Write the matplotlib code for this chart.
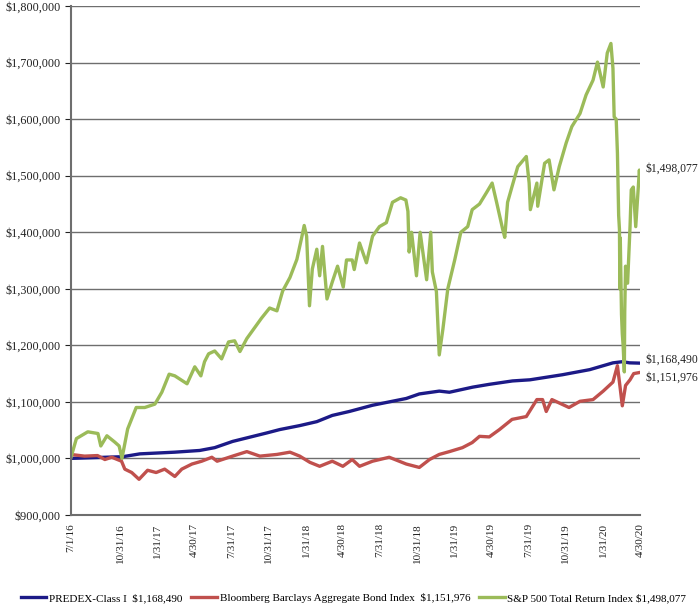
import matplotlib
matplotlib.use("Agg")
import matplotlib.pyplot as plt
import matplotlib.dates as mdates
from matplotlib.ticker import FuncFormatter
import pandas as pd

# valori in migliaia di dollari
sp_dates = ["2016-07-01", "2016-07-15", "2016-08-12", "2016-09-06", "2016-09-13", "2016-09-28",
            "2016-10-17", "2016-10-28", "2016-11-04", "2016-11-18", "2016-12-09", "2016-12-30",
            "2017-01-24", "2017-02-10", "2017-02-28", "2017-03-14", "2017-04-13", "2017-05-02",
            "2017-05-17", "2017-05-26", "2017-06-05", "2017-06-20", "2017-07-07", "2017-07-24",
            "2017-08-08", "2017-08-21", "2017-09-07", "2017-09-22", "2017-10-13", "2017-11-02",
            "2017-11-20", "2017-12-04", "2017-12-22", "2018-01-08", "2018-01-19", "2018-01-26",
            "2018-02-01", "2018-02-08", "2018-02-15", "2018-02-26", "2018-03-05", "2018-03-12",
            "2018-03-23", "2018-04-05", "2018-04-18", "2018-05-02", "2018-05-10", "2018-05-24",
            "2018-05-29", "2018-06-11", "2018-06-28", "2018-07-13", "2018-07-30", "2018-08-16",
            "2018-08-31", "2018-09-20", "2018-10-03", "2018-10-08", "2018-10-11", "2018-10-17",
            "2018-10-29", "2018-11-07", "2018-11-23", "2018-12-03", "2018-12-07", "2018-12-17",
            "2018-12-24", "2019-01-02", "2019-01-14", "2019-01-31", "2019-02-15", "2019-03-04",
            "2019-03-15", "2019-04-02", "2019-04-19", "2019-05-03", "2019-05-14", "2019-05-29",
            "2019-06-03", "2019-06-10", "2019-06-21", "2019-07-05", "2019-07-26", "2019-08-02",
            "2019-08-05", "2019-08-21", "2019-08-23", "2019-09-09", "2019-09-20", "2019-10-02",
            "2019-10-15", "2019-11-01", "2019-11-15", "2019-12-05", "2019-12-20", "2020-01-06",
            "2020-01-17", "2020-01-31", "2020-02-10", "2020-02-19", "2020-02-24", "2020-02-27",
            "2020-03-03", "2020-03-06", "2020-03-09", "2020-03-11", "2020-03-12", "2020-03-13",
            "2020-03-16", "2020-03-18", "2020-03-20", "2020-03-23", "2020-03-24", "2020-03-26",
            "2020-03-27", "2020-03-31", "2020-04-06", "2020-04-09", "2020-04-14", "2020-04-20",
            "2020-04-29", "2020-04-30"]
sp_vals = [1000, 1035, 1047, 1044, 1022, 1040,
           1029, 1022, 1000, 1052, 1090, 1090,
           1096, 1117, 1149, 1146, 1132, 1162,
           1146, 1171, 1185, 1190, 1176, 1206,
           1208, 1189, 1212, 1227, 1248, 1266,
           1261, 1296, 1320, 1352, 1388, 1412,
           1393, 1270, 1335, 1370, 1323, 1375,
           1282, 1312, 1340, 1303, 1351, 1351,
           1334, 1381, 1346, 1393, 1410, 1417,
           1453, 1461, 1457, 1437, 1365, 1400,
           1323, 1400, 1316, 1400, 1330, 1295,
           1183, 1229, 1300, 1351, 1400, 1410,
           1440, 1450, 1470, 1487, 1453, 1405,
           1391, 1453, 1481, 1516, 1534, 1487,
           1440, 1487, 1446, 1522, 1528, 1475,
           1516, 1558, 1587, 1610, 1643, 1669,
           1701, 1657, 1717, 1734, 1690, 1604,
           1600, 1540, 1430, 1405, 1300, 1390,
           1255, 1220, 1200, 1153, 1260, 1340,
           1310, 1310, 1410, 1475, 1480, 1410,
           1510, 1498]

predex_dates = ["2016-07-01", "2016-11-06", "2016-12-18", "2017-03-14", "2017-05-14", "2017-06-20",
                "2017-08-03", "2017-10-26", "2017-11-27", "2018-01-15", "2018-02-26", "2018-04-05",
                "2018-05-17", "2018-07-13", "2018-10-04", "2018-11-05", "2018-12-24", "2019-01-18",
                "2019-03-16", "2019-04-26", "2019-06-22", "2019-08-04", "2019-10-23", "2019-12-29",
                "2020-02-24", "2020-03-18", "2020-04-05", "2020-04-30"]
predex_vals = [1000, 1003, 1008, 1011, 1014, 1019,
               1030, 1045, 1051, 1058, 1065, 1076,
               1083, 1094, 1106, 1114, 1119, 1117,
               1126, 1131, 1137, 1139, 1148, 1157,
               1169, 1171, 1169, 1168.49]

bond_dates = ["2016-07-01", "2016-08-04", "2016-09-05", "2016-09-23", "2016-10-10", "2016-11-03",
              "2016-11-11", "2016-11-28", "2016-12-16", "2017-01-06", "2017-01-27", "2017-02-17",
              "2017-03-14", "2017-03-31", "2017-04-25", "2017-05-19", "2017-06-13", "2017-06-26",
              "2017-08-03", "2017-09-07", "2017-10-09", "2017-11-20", "2017-12-22", "2018-01-15",
              "2018-02-09", "2018-03-05", "2018-04-05", "2018-05-01", "2018-05-24", "2018-06-11",
              "2018-07-13", "2018-08-23", "2018-10-04", "2018-11-05", "2018-11-30", "2018-12-24",
              "2019-01-18", "2019-02-19", "2019-03-15", "2019-04-02", "2019-04-26", "2019-05-21",
              "2019-06-21", "2019-07-26", "2019-08-21", "2019-09-04", "2019-09-13", "2019-09-27",
              "2019-11-08", "2019-12-05", "2020-01-06", "2020-01-31", "2020-02-24", "2020-03-06",
              "2020-03-13", "2020-03-18", "2020-03-26", "2020-04-06", "2020-04-15", "2020-04-30"]
bond_vals = [1007, 1004, 1005, 998, 1002, 995,
             981, 975, 963, 979, 975, 981,
             968, 981, 990, 995, 1002, 995,
             1004, 1012, 1004, 1007, 1011, 1004,
             993, 986, 995, 986, 998, 986,
             995, 1002, 990, 984, 998, 1007,
             1012, 1019, 1028, 1039, 1038, 1051,
             1069, 1074, 1104, 1104, 1083, 1104,
             1090, 1101, 1104, 1119, 1135, 1164,
             1123, 1093, 1129, 1139, 1150, 1151.976]

tick_dates = ["2016-07-01", "2016-10-31", "2017-01-31", "2017-04-30", "2017-07-31", "2017-10-31",
              "2018-01-31", "2018-04-30", "2018-07-31", "2018-10-31", "2019-01-31", "2019-04-30",
              "2019-07-31", "2019-10-31", "2020-01-31", "2020-04-30"]

labels = ["PREDEX-Class I  $1,168,490",
          "Bloomberg Barclays Aggregate Bond Index  $1,151,976",
          "S&P 500 Total Return Index $1,498,077"]
end_labels = ["$1,168,490", "$1,151,976", "$1,498,077"]

plt.rcParams['font.family'] = ['Liberation Serif', 'DejaVu Serif']

fig = plt.figure(figsize=(7, 6.13), dpi=100)
ax = fig.add_axes([0.101, 0.160, 0.813, 0.830])

series = [
    (predex_dates, predex_vals, '#1c1a87'),
    (bond_dates, bond_vals, '#c0504d'),
    (sp_dates, sp_vals, '#9bbb59'),
]
for (d, v, c), lab in zip(series, labels):
    ax.plot(pd.to_datetime(d), [x * 1000 for x in v], color=c, lw=2.4, label=lab,
            solid_joinstyle='round')

ax.set_xlim(pd.Timestamp("2016-07-01"), pd.Timestamp("2020-04-30"))
ax.set_ylim(900000, 1800000)
ax.set_yticks(range(900000, 1800001, 100000))
ax.yaxis.set_major_formatter(FuncFormatter(lambda v, p: f"${v:,.0f}"))
ax.set_xticks(pd.to_datetime(tick_dates))
ax.xaxis.set_major_formatter(mdates.DateFormatter("%-m/%-d/%y"))
ax.tick_params(axis='x', rotation=90, length=0, labelsize=8, pad=6, colors='#222222')
ax.tick_params(axis='y', length=4, labelsize=8.7, colors='#222222', direction='out')
for t in ax.get_xticklabels():
    t.set_verticalalignment('top')

ax.grid(axis='y', color='#6e6e6e', lw=1)
ax.set_axisbelow(True)
for s in ['top', 'right']:
    ax.spines[s].set_visible(False)
for s in ['left', 'bottom']:
    ax.spines[s].set_color('#6e6e6e')
    ax.spines[s].set_linewidth(1.5)

# etichette finali a destra
finals = [predex_vals[-1] * 1000, bond_vals[-1] * 1000, sp_vals[-1] * 1000]
offsets = [6000, -10000, 14000]
for val, txt, off in zip(finals, end_labels, offsets):
    ax.annotate(txt, xy=(1.0, val + off), xycoords=('axes fraction', 'data'),
                xytext=(4, 0), textcoords='offset points', va='center', ha='left',
                fontsize=8.4, color='#222222', annotation_clip=False)

fig.legend(loc='lower center', bbox_to_anchor=(0.505, 0.0), ncol=3, frameon=False,
           fontsize=8, handlelength=2.3, handletextpad=0.25, columnspacing=0.8)

plt.savefig("out.png", dpi=100)
plt.close()
